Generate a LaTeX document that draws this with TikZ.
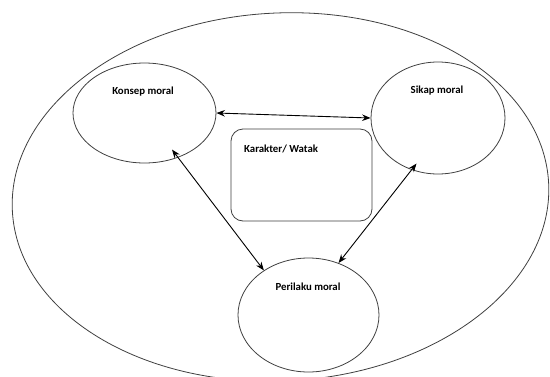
\documentclass[tikz,border=0pt]{standalone}
\usepackage{fontspec}
\setmainfont{Carlito}
\usetikzlibrary{shapes.geometric,arrows.meta}
\begin{document}
\begin{tikzpicture}[x=1pt,y=-1pt,
  circ/.style={draw=black!75,line width=0.8pt,ellipse,inner sep=0pt},
  lbl/.style={font=\bfseries\fontsize{10.8}{12}\selectfont,inner sep=0pt},
  conn/.style={line width=0.9pt,{Stealth[length=8.5pt,width=6.5pt]}-{Stealth[length=8.5pt,width=6.5pt]}}
]
\useasboundingbox (0,0) rectangle (550,376);
\fill[white] (0,0) rectangle (550,376);
\begin{scope}
\clip (0,0) rectangle (550,376);
\node[circ,rotate=3,minimum width=537pt,minimum height=368pt] (outer) at (280.5,197) {};
\end{scope}
\node[circ,minimum width=143pt,minimum height=100pt] (k) at (144.5,113) {};
\node[circ,minimum width=134pt,minimum height=112pt] (s) at (438,118) {};
\node[circ,minimum width=141pt,minimum height=114pt] (p) at (308.5,315) {};
\node[draw=black!75,line width=0.8pt,rounded corners=12pt,minimum width=141pt,minimum height=92pt,inner sep=0pt] (c) at (301.5,175) {};
\node[lbl] (kl) at (143,92) {Konsep moral};
\node[lbl] (sl) at (437,91) {Sikap moral};
\node[lbl] (pl) at (308,287) {Perilaku moral};
\node[lbl,anchor=west] (cl) at (244,149) {Karakter/ Watak};
\draw[conn] (k.east) -- (s.west);
\draw[conn,shorten <=-10pt] (k.-53.3) -- (p.135.3);
\draw[conn,shorten <=-8pt] (s.-117) -- (p.60.3);
\end{tikzpicture}
\end{document}
